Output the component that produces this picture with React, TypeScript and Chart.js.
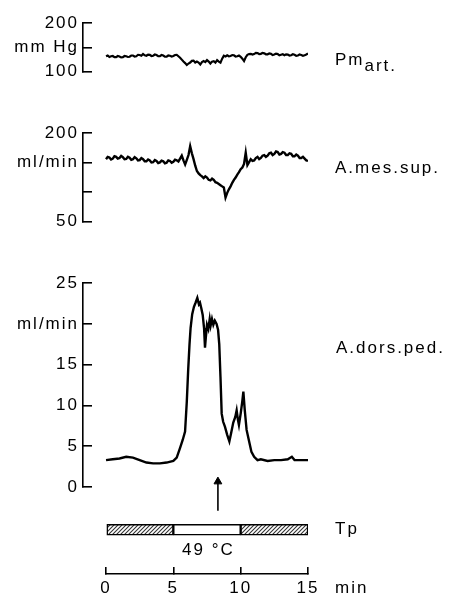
import React, { useEffect, useRef } from 'react';
import { Chart, registerables } from 'chart.js';

Chart.register(...registerables);

// ---------- data ----------
// Pm art. (mm Hg), sampled every 0.125 min from 0 to 15 min
const PM_STEP = 0.125;
const PM_VALUES = [
  132,133.5,130.5,132,132.5,130,130,132.5,
  131.5,129.5,130,132.5,132,130.5,131,133.5,
  133.5,131.5,132,135,134.5,133,136.5,134,
  133,135.5,135,132.5,133,135.5,134.5,132,
  132,134.5,133.5,131,131,133.5,133,131.5,
  132.5,134.5,135,132,129,125,121,118,
  114,117,119,122.5,123,119,121,119,
  115,120,122,120,124,121,117,121,
  122,119,124,121,119,127,133,131.5,
  134,132,132.5,134.5,134,131.5,132,133.5,
  131,127,122,130,135,136.5,137,135.5,
  136.5,139,138.5,136.5,137,139,138,136,
  136,138,137,134.5,135.5,137.5,136.5,134,
  135,136,134,136,135.5,133.5,134,136,
  135,133,133.5,135.5,134.5,133,134,135.5,
  137.5,
];
const PM_TICKS = [100, 150, 200];
const PM_TICK_LABELS = ['100', 'mm Hg', '200'];

// A.mes.sup. (ml/min), sampled every 0.125 min
const MES_STEP = 0.125;
const MES_VALUES = [
  156,160,159,155.5,157,161,160,157,
  158,161.5,159.5,156,156.5,160,158.5,155,
  156,159.5,157.5,154,154.5,158,156,152.5,
  152.5,155.5,154,150.5,151,154.5,153,149.5,
  150.5,153.5,152.5,149,150,154,153,150,
  151.5,155,154,152,157,162,154,147,
  155,163,178,166,156,145,136,132,
  129,127,124,127,125,121,120,123,
  121,117,116,114,112,110,108,91,
  99,105,110,116,121,125,130,134,
  139,142,148,167,146,151,156,153,
  154,158,160,156,158,162,163,160,
  162,166,167,163,165,169,168,164,
  165,168,167,163,163,166,165,161,
  161,164,162,158,158,160,157,154,
  153,
];
const MES_TICKS = [50, 100, 150, 200];
const MES_TICK_LABELS = ['50', '', 'ml/min', '200'];

// A.dors.ped. (ml/min)
const DORS_TIME = [0,0.5,1,1.5,2,2.5,3,3.5,4,4.5,5,5.25,5.5,5.7,5.87,6,6.1,6.2,6.28,6.4,6.53,6.65,6.78,6.9,6.98,7.08,7.18,7.28,7.35,7.42,7.5,7.6,7.7,7.77,7.87,7.97,8.08,8.21,8.32,8.41,8.5,8.59,8.7,8.83,9,9.16,9.3,9.45,9.6,9.7,9.8,9.87,10,10.12,10.2,10.3,10.44,10.6,10.8,11,11.25,11.5,12,12.5,13,13.5,13.8,14,14.5,15];
const DORS_VALUES = [3.3,3.4,3.5,3.7,3.6,3.3,3.0,2.9,2.9,3.0,3.2,3.6,4.8,5.8,6.8,10.5,14.3,17.5,19.5,21.2,22.1,22.6,23.2,22.4,22.6,21.9,21.1,19.5,17.1,18.5,19.9,19.4,20.6,19.8,20.6,19.9,20.4,20.0,19.3,17.5,13.5,9.0,8.0,7.4,6.4,5.6,6.7,7.9,8.6,9.4,8.2,7.6,9.0,10.5,11.7,9.5,7.0,5.8,4.3,3.7,3.3,3.4,3.2,3.3,3.3,3.4,3.7,3.3,3.3,3.3];
const DORS_TICKS = [0, 5, 10, 15, 20, 25];
const DORS_TICK_LABELS = ['0', '5', '10', '15', 'ml/min', '25'];

// stimulus arrow
const ARROW_TIME = [8.31, 8.31];
const ARROW_VALUES = [-2.9, 0.66];

// Tp bar
const TP_CATEGORIES = ['Tp', ''];
const TP_SEGMENTS: [number, number][] = [[0, 5], [5, 10], [10, 15]];
const TP_HATCHED = [true, false, true];
const TIME_TICKS = [0, 5, 10, 15];
const TIME_TICK_LABELS = ['0', '5', '10', '15'];

const FONT = '"Liberation Sans", Arial, Helvetica, sans-serif';

const spacingPlugin = {
  id: 'letterSpacing',
  beforeDraw(chart: any) {
    chart.ctx.letterSpacing = '2px';
  },
};

function yAxis(min: number, max: number, ticks: number[], labels: string[]) {
  return {
    type: 'linear',
    min,
    max,
    afterBuildTicks: (s: any) => {
      s.ticks = ticks.map((v) => ({ value: v }));
    },
    afterFit: (s: any) => {
      s.width = 83;
    },
    border: { display: true, color: '#000', width: 1.6 },
    grid: { drawOnChartArea: false, drawTicks: true, tickLength: -9, color: '#000', lineWidth: 1.6 },
    ticks: {
      color: '#000',
      font: { family: FONT, size: 17 },
      padding: 13,
      autoSkip: false,
      callback: (_v: any, i: number) => labels[i],
    },
  };
}

function panelConfig(
  points: { x: number; y: number }[],
  yMin: number,
  yMax: number,
  ticks: number[],
  labels: string[],
  padTop: number,
  padBottom: number,
  width: number,
  extra: any[] = []
) {
  return {
    type: 'line',
    data: {
      datasets: [
        {
          data: points,
          borderColor: '#000',
          borderWidth: width,
          pointRadius: 0,
          tension: 0,
          fill: false,
        },
        ...extra,
      ],
    },
    options: {
      responsive: false,
      animation: false,
      events: [],
      layout: { padding: { left: 0, right: 142, top: padTop, bottom: padBottom } },
      plugins: { legend: { display: false }, tooltip: { enabled: false } },
      scales: {
        x: { type: 'linear', min: -1.71, max: 15, display: false },
        y: yAxis(yMin, yMax, ticks, labels),
      },
    },
    plugins: [spacingPlugin],
  };
}

export default function App() {
  const c1 = useRef<HTMLCanvasElement>(null);
  const c2 = useRef<HTMLCanvasElement>(null);
  const c3 = useRef<HTMLCanvasElement>(null);
  const c4 = useRef<HTMLCanvasElement>(null);

  useEffect(() => {
    document.body.style.margin = '0';
    const charts: Chart[] = [];

    const pmPts = PM_VALUES.map((v, i) => ({ x: i * PM_STEP, y: v }));
    const mesPts = MES_VALUES.map((v, i) => ({ x: i * MES_STEP, y: v }));
    const dorsPts = DORS_VALUES.map((v, i) => ({ x: DORS_TIME[i], y: v }));

    charts.push(new Chart(c1.current!, panelConfig(pmPts, 100, 200, PM_TICKS, PM_TICK_LABELS, 15, 16, 2.2) as any));
    charts.push(new Chart(c2.current!, panelConfig(mesPts, 50, 200, MES_TICKS, MES_TICK_LABELS, 23, 18, 2.4) as any));
    const arrow = {
      data: ARROW_TIME.map((t, i) => ({ x: t, y: ARROW_VALUES[i] })),
      borderColor: '#000',
      borderWidth: 1.6,
      pointRadius: [0, 4.5],
      pointStyle: 'triangle',
      pointBackgroundColor: '#000',
      pointBorderColor: '#000',
      pointBorderWidth: 1,
      tension: 0,
      fill: false,
      clip: false,
    };
    charts.push(
      new Chart(c3.current!, panelConfig(dorsPts, 0, 25, DORS_TICKS, DORS_TICK_LABELS, 19, 28, 2.4, [arrow]) as any)
    );

    // hatch pattern
    const pc = document.createElement('canvas');
    pc.width = 4;
    pc.height = 4;
    const p = pc.getContext('2d')!;
    p.fillStyle = '#fff';
    p.fillRect(0, 0, 4, 4);
    p.strokeStyle = '#333';
    p.lineWidth = 1.1;
    p.beginPath();
    p.moveTo(0, 4);
    p.lineTo(4, 0);
    p.moveTo(-1, 1);
    p.lineTo(1, -1);
    p.moveTo(3, 5);
    p.lineTo(5, 3);
    p.stroke();
    const pattern = c4.current!.getContext('2d')!.createPattern(pc, 'repeat');

    charts.push(
      new Chart(c4.current!, {
        type: 'bar',
        data: {
          labels: TP_CATEGORIES,
          datasets: TP_SEGMENTS.map((seg, i) => ({
            data: [seg],
            backgroundColor: TP_HATCHED[i] ? pattern : '#fff',
            borderColor: '#000',
            borderWidth: 1.5,
            borderSkipped: false,
            barThickness: 11,
            grouped: false,
          })),
        } as any,
        options: {
          indexAxis: 'y',
          responsive: false,
          animation: false,
          events: [],
          layout: { padding: { left: 106, right: 142, top: 0, bottom: 0 } },
          plugins: { legend: { display: false }, tooltip: { enabled: false } },
          scales: {
            x: {
              type: 'linear',
              min: 0,
              max: 15,
              position: 'bottom',
              afterBuildTicks: (s: any) => {
                s.ticks = TIME_TICKS.map((v) => ({ value: v }));
              },
              afterFit: (s: any) => {
                s.height = 25;
              },
              border: { display: true, color: '#000', width: 1.6 },
              grid: { drawOnChartArea: false, drawTicks: true, tickLength: -7, color: '#000', lineWidth: 1.6 },
              ticks: {
                color: '#000',
                font: { family: FONT, size: 17 },
                padding: 11,
                maxRotation: 0,
                autoSkip: false,
                callback: (_v: any, i: number) => TIME_TICK_LABELS[i],
              },
            },
            y: { display: false },
          },
        } as any,
        plugins: [spacingPlugin],
      } as any)
    );

    return () => {
      charts.forEach((c) => c.destroy());
    };
  }, []);

  const label: React.CSSProperties = {
    position: 'absolute',
    fontFamily: FONT,
    fontSize: 17,
    letterSpacing: '2px',
    lineHeight: '17px',
    whiteSpace: 'nowrap',
    color: '#000',
  };

  return (
    <div style={{ position: 'relative', width: 450, height: 599, background: '#fff', overflow: 'hidden' }}>
      <canvas ref={c1} width={450} height={95} style={{ position: 'absolute', left: 0, top: 0 }} />
      <canvas ref={c2} width={450} height={135} style={{ position: 'absolute', left: 0, top: 110 }} />
      <canvas ref={c3} width={450} height={255} style={{ position: 'absolute', left: 0, top: 260 }} />
      <canvas ref={c4} width={450} height={84} style={{ position: 'absolute', left: 0, top: 515 }} />
      <div style={{ ...label, left: 335, top: 51 }}>
        Pm<span style={{ position: 'relative', top: 6 }}>art.</span>
      </div>
      <div style={{ ...label, left: 335, top: 159 }}>A.mes.sup.</div>
      <div style={{ ...label, left: 336, top: 339 }}>A.dors.ped.</div>
      <div style={{ ...label, left: 335, top: 520 }}>Tp</div>
      <div style={{ ...label, left: 182, top: 541 }}>49 °C</div>
      <div style={{ ...label, left: 335, top: 579 }}>min</div>
    </div>
  );
}
